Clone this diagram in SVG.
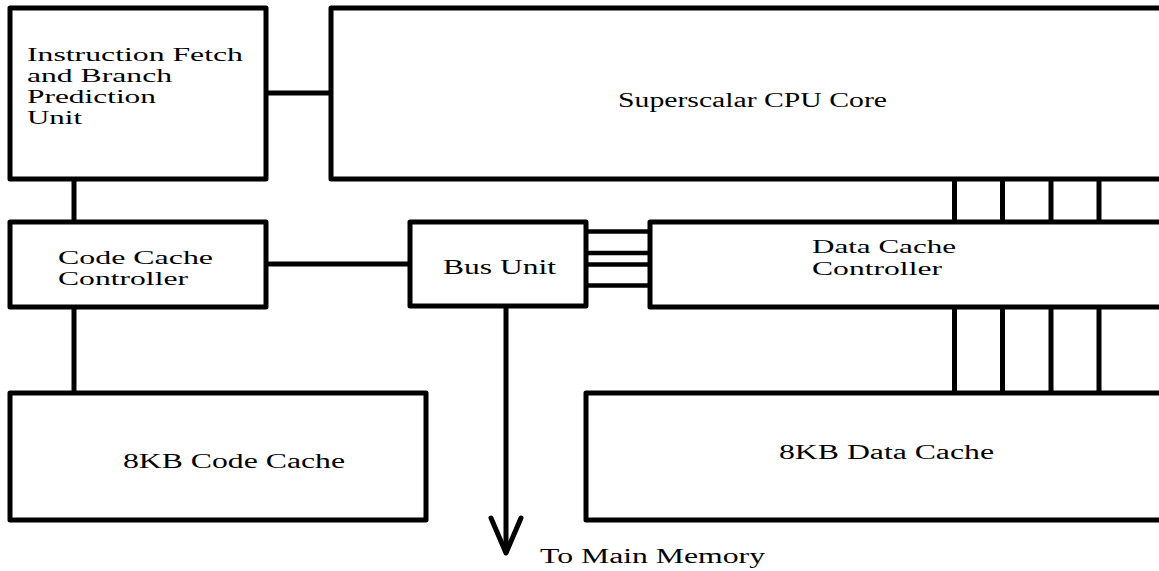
<svg xmlns="http://www.w3.org/2000/svg" width="1159" height="571" viewBox="0 0 1159 571">
<style>
.box{fill:#fff;stroke:#000;stroke-width:5;stroke-linejoin:round}
.ln{stroke:#000;stroke-width:5;fill:none}
.bus{stroke:#000;stroke-width:4.5;fill:none}
text{font-family:"Liberation Serif","Times New Roman",serif;font-size:20px;fill:#000}
text.m{font-size:18px}
</style>
<rect width="1159" height="571" fill="#fff"/>
<g id="connectors">
<line class="ln" x1="266" y1="93" x2="331" y2="93"/>
<line class="ln" x1="74" y1="179" x2="74" y2="222"/>
<line class="ln" x1="74" y1="307" x2="74" y2="393"/>
<line class="ln" x1="266" y1="264" x2="410" y2="264"/>
<line class="bus" x1="586" y1="231.5" x2="650" y2="231.5"/>
<line class="bus" x1="586" y1="253" x2="650" y2="253"/>
<line class="bus" x1="586" y1="264.5" x2="650" y2="264.5"/>
<line class="bus" x1="586" y1="285.5" x2="650" y2="285.5"/>
<line class="ln" x1="954.5" y1="179" x2="954.5" y2="222"/>
<line class="ln" x1="1002.5" y1="179" x2="1002.5" y2="222"/>
<line class="ln" x1="1051" y1="179" x2="1051" y2="222"/>
<line class="ln" x1="1099" y1="179" x2="1099" y2="222"/>
<line class="ln" x1="954.5" y1="307" x2="954.5" y2="393"/>
<line class="ln" x1="1002.5" y1="307" x2="1002.5" y2="393"/>
<line class="ln" x1="1051" y1="307" x2="1051" y2="393"/>
<line class="ln" x1="1099" y1="307" x2="1099" y2="393"/>
<line class="ln" x1="506" y1="306" x2="506" y2="551"/>
<polyline class="ln" stroke-width="6" stroke-linecap="round" stroke-linejoin="round" points="491,518 506,553 521,518"/>
<text x="540" y="563" textLength="225" lengthAdjust="spacingAndGlyphs">To Main Memory</text>
</g>
<g id="ifetch">
<rect class="box" x="10" y="8" width="256" height="171"/>
<text class="m" x="27" y="61" textLength="216" lengthAdjust="spacingAndGlyphs">Instruction Fetch</text>
<text class="m" x="27" y="82" textLength="145" lengthAdjust="spacingAndGlyphs">and Branch</text>
<text class="m" x="27" y="103" textLength="129" lengthAdjust="spacingAndGlyphs">Prediction</text>
<text class="m" x="27" y="124" textLength="55" lengthAdjust="spacingAndGlyphs">Unit</text>
</g>
<g id="cpucore">
<rect class="box" x="331" y="8" width="900" height="171"/>
<text x="618" y="107" textLength="269" lengthAdjust="spacingAndGlyphs">Superscalar CPU Core</text>
</g>
<g id="codecachectrl">
<rect class="box" x="10" y="222" width="256" height="85"/>
<text class="m" x="58" y="264" textLength="155" lengthAdjust="spacingAndGlyphs">Code Cache</text>
<text class="m" x="58" y="285" textLength="130" lengthAdjust="spacingAndGlyphs">Controller</text>
</g>
<g id="busunit">
<rect class="box" x="410" y="222" width="176" height="84"/>
<text x="443" y="274" textLength="113" lengthAdjust="spacingAndGlyphs">Bus Unit</text>
</g>
<g id="datacachectrl">
<rect class="box" x="650" y="222" width="600" height="85"/>
<text class="m" x="812" y="253" textLength="144" lengthAdjust="spacingAndGlyphs">Data Cache</text>
<text class="m" x="812" y="275" textLength="130" lengthAdjust="spacingAndGlyphs">Controller</text>
</g>
<g id="codecache">
<rect class="box" x="10" y="393" width="416" height="127"/>
<text x="123" y="468" textLength="222" lengthAdjust="spacingAndGlyphs">8KB Code Cache</text>
</g>
<g id="datacache">
<rect class="box" x="586" y="393" width="700" height="127"/>
<text x="779" y="459" textLength="215" lengthAdjust="spacingAndGlyphs">8KB Data Cache</text>
</g>
</svg>
